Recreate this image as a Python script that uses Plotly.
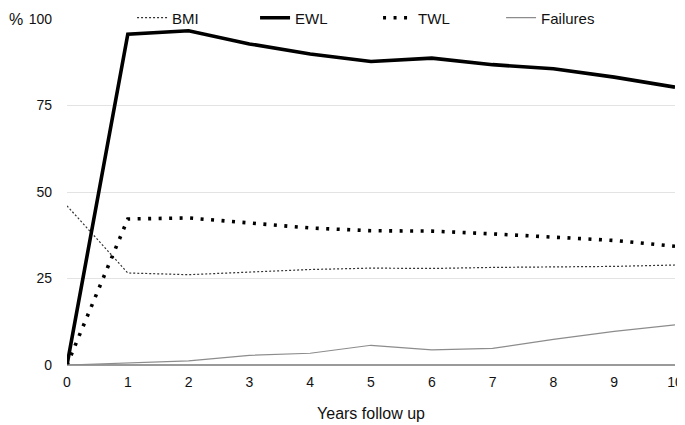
import plotly.graph_objects as go

years = [0, 1, 2, 3, 4, 5, 6, 7, 8, 9, 10]
bmi = [46.0, 26.6, 26.1, 26.9, 27.6, 28.0, 27.9, 28.2, 28.3, 28.5, 28.9]
ewl = [0, 95.6, 96.6, 92.8, 89.9, 87.7, 88.7, 86.8, 85.6, 83.2, 80.3]
twl = [0, 42.2, 42.5, 41.0, 39.6, 38.8, 38.7, 37.9, 37.0, 36.0, 34.3]
failures = [0, 0.6, 1.2, 2.8, 3.4, 5.7, 4.4, 4.8, 7.4, 9.7, 11.6]

fig = go.Figure()
fig.add_trace(go.Scatter(x=years, y=bmi, name="BMI", mode="lines",
                         line=dict(color="#333333", width=1.2, dash="2px,2px")))
fig.add_trace(go.Scatter(x=years, y=ewl, name="EWL", mode="lines",
                         line=dict(color="#000000", width=3.6)))
fig.add_trace(go.Scatter(x=years, y=twl, name="TWL", mode="lines",
                         line=dict(color="#000000", width=3.6, dash="3px,7.5px")))
fig.add_trace(go.Scatter(x=years, y=failures, name="Failures", mode="lines",
                         line=dict(color="#8c8c8c", width=1.2)))

font = "Liberation Sans, Arial, Helvetica, sans-serif"
# the page body adds an 8px offset, so the figure is 8px smaller and margins shifted
fig.update_layout(
    width=677, height=417,
    margin=dict(l=59, r=10, t=11, b=60, autoexpand=False),
    plot_bgcolor="white", paper_bgcolor="white",
    font=dict(family=font, size=14, color="#111111"),
    showlegend=True,
    legend=dict(orientation="h", x=0.107, xanchor="left", y=1.003, yanchor="middle",
                font=dict(size=15), itemwidth=30, entrywidth=78, tracegroupgap=0,
                bgcolor="rgba(0,0,0,0)", borderwidth=0),
    xaxis=dict(range=[0, 10], tickvals=years, ticktext=[str(v) for v in years],
               showgrid=False, zeroline=False, showline=False,
               ticks="", tickfont=dict(size=14), ticklabelstandoff=7,
               title=dict(text="Years follow up", font=dict(size=16), standoff=18)),
    yaxis=dict(range=[0, 100], tickvals=[0, 25, 50, 75, 100],
               showgrid=True, gridcolor="#e3e3e3", gridwidth=1,
               zeroline=True, zerolinecolor="#9a9a9a", zerolinewidth=1.5,
               ticks="", tickfont=dict(size=14), ticklabelstandoff=14),
    annotations=[dict(text="%", xref="paper", yref="paper", x=-0.099, y=1.0,
                      xanchor="left", yanchor="middle", showarrow=False,
                      font=dict(size=16))],
)

fig.write_html("out.html")
